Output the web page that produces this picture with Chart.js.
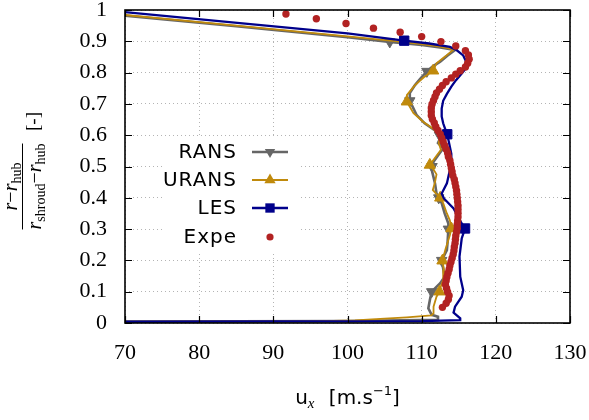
<!DOCTYPE html>
<html>
<head>
<meta charset="utf-8">
<script src="https://cdn.jsdelivr.net/npm/chart.js@4/dist/chart.umd.min.js"></script>
<style>
html,body{margin:0;padding:0;background:#fff;}
#wrap{width:589px;height:420px;}
</style>
</head>
<body>
<div id="wrap"><canvas id="c" width="589" height="420"></canvas></div>
<script>
// ---- tick values / labels ----
const xTicks = [70, 80, 90, 100, 110, 120, 130];
const yTicks = [0, 0.1, 0.2, 0.3, 0.4, 0.5, 0.6, 0.7, 0.8, 0.9, 1];
const yTickLabels = ['0', '0.1', '0.2', '0.3', '0.4', '0.5', '0.6', '0.7', '0.8', '0.9', '1'];
const seriesNames = ['RANS', 'URANS', 'LES', 'Expe'];

// ---- series: [u_x, normalized radius] ----
const rans = [
  [70, 0.982], [85, 0.948], [100, 0.913], [105.7, 0.898], [110, 0.888], [112.5, 0.880],
  [114.5, 0.872], [113.5, 0.855], [112.5, 0.835], [111.5, 0.820], [110.7, 0.804],
  [109.8, 0.780], [109.1, 0.760], [108.4, 0.735], [108.4, 0.710], [109.3, 0.665],
  [110.4, 0.638], [111.8, 0.615], [112.4, 0.600], [112.5, 0.590], [112.2, 0.575],
  [112.9, 0.558], [112.2, 0.535], [111.6, 0.515], [111.4, 0.500], [111.35, 0.490],
  [111.8, 0.446], [112.0, 0.414], [112.3, 0.400], [112.7, 0.383], [113.1, 0.350],
  [113.6, 0.318], [113.6, 0.300], [113.5, 0.260], [113.4, 0.233], [112.7, 0.200],
  [113.1, 0.148], [112.5, 0.127], [111.35, 0.100], [111.1, 0.073], [110.9, 0.047],
  [111.35, 0.026], [112.2, 0.020], [112.2, 0.010], [100, 0.006], [70, 0.005]
];
const ransMarks = [0.898, 0.804, 0.710, 0.600, 0.500, 0.400, 0.300, 0.200, 0.100];

const urans = [
  [70, 0.984], [85, 0.950], [100, 0.916], [107.1, 0.899], [110, 0.891], [112.5, 0.883],
  [114.3, 0.874], [113.2, 0.852], [112.0, 0.830], [111.55, 0.806], [110.3, 0.785],
  [109.1, 0.760], [108.0, 0.728], [108.0, 0.707], [108.9, 0.670], [110.2, 0.643],
  [111.6, 0.620], [112.5, 0.597], [112.3, 0.575], [112.6, 0.553], [111.8, 0.528],
  [111.1, 0.505], [111.6, 0.490], [112.0, 0.475], [111.8, 0.450], [111.5, 0.425],
  [112.0, 0.412], [112.5, 0.400], [112.9, 0.383], [113.4, 0.350], [113.8, 0.328],
  [114.0, 0.302], [113.8, 0.280], [113.6, 0.265], [113.2, 0.235], [112.8, 0.199],
  [113.0, 0.170], [112.9, 0.137], [112.6, 0.118], [112.4, 0.100], [112.0, 0.084],
  [111.6, 0.052], [111.6, 0.031], [111.3, 0.024], [108, 0.018], [105, 0.014],
  [101, 0.008], [95, 0.005], [70, 0.004]
];
const uransMarks = [0.806, 0.707, 0.505, 0.400, 0.302, 0.199, 0.100];

const les = [
  [70, 0.993], [85.5, 0.958], [100, 0.925], [107.65, 0.902], [111, 0.893], [113.8, 0.882],
  [114.7, 0.872], [115.6, 0.855], [116.1, 0.830], [116.0, 0.815], [115.4, 0.797],
  [114.6, 0.775], [114.0, 0.755], [113.4, 0.732], [112.9, 0.710], [112.7, 0.685],
  [112.7, 0.660], [112.9, 0.638], [113.2, 0.618], [113.45, 0.603], [113.8, 0.563],
  [114.0, 0.540], [114.0, 0.510], [113.8, 0.489], [113.4, 0.446], [112.7, 0.414],
  [113.0, 0.398], [114.3, 0.366], [115.4, 0.318], [115.85, 0.302], [115.4, 0.270],
  [115.1, 0.212], [115.2, 0.148], [115.6, 0.105], [115.4, 0.084], [114.5, 0.052],
  [114.3, 0.033], [115.2, 0.015], [115.2, 0.009], [110, 0.006], [90, 0.005], [70, 0.004]
];
const lesMarks = [0.902, 0.603, 0.302];

const expe = [
  [91.7, 0.987], [95.8, 0.972], [99.8, 0.957], [103.5, 0.942], [107.1, 0.929],
  [110.0, 0.915], [112.6, 0.899], [114.6, 0.885], [115.9, 0.870], [116.3, 0.856],
  [116.4, 0.843], [116.2, 0.830], [115.9, 0.818], [115.2, 0.806], [114.6, 0.795],
  [114.0, 0.783], [113.3, 0.771], [112.8, 0.759], [112.4, 0.747], [112.0, 0.735],
  [111.8, 0.723], [111.6, 0.711], [111.4, 0.699], [111.3, 0.687], [111.3, 0.675],
  [111.3, 0.663], [111.45, 0.651], [111.7, 0.639], [111.9, 0.627], [112.2, 0.615],
  [112.5, 0.603], [112.7, 0.591], [112.9, 0.579], [113.1, 0.567], [113.3, 0.555],
  [113.5, 0.543], [113.6, 0.531], [113.8, 0.519], [113.9, 0.507], [114.0, 0.495],
  [114.1, 0.483], [114.2, 0.471], [114.4, 0.459], [114.5, 0.447], [114.6, 0.435],
  [114.7, 0.423], [114.75, 0.411], [114.8, 0.399], [114.85, 0.387], [114.9, 0.375],
  [114.9, 0.363], [114.9, 0.351], [114.9, 0.339], [114.85, 0.327], [114.8, 0.315],
  [114.8, 0.303], [114.7, 0.291], [114.6, 0.279], [114.55, 0.267], [114.5, 0.255],
  [114.4, 0.243], [114.35, 0.231], [114.25, 0.219], [114.1, 0.207], [113.95, 0.195],
  [113.8, 0.183], [113.7, 0.171], [113.55, 0.159], [113.4, 0.147], [113.3, 0.135],
  [113.2, 0.123], [113.35, 0.111], [113.5, 0.099], [113.7, 0.087], [113.6, 0.075],
  [113.3, 0.063], [112.8, 0.050]
];

// ---- helpers ----
const toXY = arr => arr.map(p => ({x: p[0], y: p[1]}));
const markRadius = (marks, r) => ctx => (ctx.raw && marks.includes(ctx.raw.y)) ? r : 0;

const COLORS = {RANS: '#666666', URANS: '#c08a0c', LES: '#00008b', Expe: '#b22222'};

const datasets = [
  {label: seriesNames[0], data: toXY(rans), showLine: true, borderColor: COLORS.RANS, borderWidth: 2.6,
   pointStyle: 'triangle', rotation: 180, pointRadius: markRadius(ransMarks, 6),
   pointBackgroundColor: COLORS.RANS, pointBorderColor: COLORS.RANS, pointBorderWidth: 1, order: 4},
  {label: seriesNames[1], data: toXY(urans), showLine: true, borderColor: COLORS.URANS, borderWidth: 1.8,
   pointStyle: 'triangle', rotation: 0, pointRadius: markRadius(uransMarks, 6.5),
   pointBackgroundColor: COLORS.URANS, pointBorderColor: COLORS.URANS, pointBorderWidth: 1, order: 3},
  {label: seriesNames[2], data: toXY(les), showLine: true, borderColor: COLORS.LES, borderWidth: 2.3,
   pointStyle: 'rect', pointRadius: markRadius(lesMarks, 6.6),
   pointBackgroundColor: COLORS.LES, pointBorderColor: COLORS.LES, pointBorderWidth: 1, order: 2},
  {label: seriesNames[3], data: toXY(expe), showLine: false, pointStyle: 'circle', pointRadius: 3.7,
   pointBackgroundColor: COLORS.Expe, pointBorderColor: COLORS.Expe, pointBorderWidth: 0, order: 1}
];

const SERIF = '"Liberation Serif", "Times New Roman", serif';
const SANS = '"DejaVu Sans", sans-serif';

function drawMarker(ctx, style, x, y, r, color) {
  ctx.fillStyle = color;
  ctx.beginPath();
  if (style === 'rect') {
    const s = r * Math.SQRT1_2;
    ctx.rect(x - s, y - s, 2 * s, 2 * s);
  } else if (style === 'triangle' || style === 'triangleDown') {
    const sgn = style === 'triangle' ? 1 : -1;
    for (let i = 0; i < 3; i++) {
      const a = i * 2 * Math.PI / 3;
      const px = x + Math.sin(a) * r;
      const py = y - sgn * Math.cos(a) * r;
      if (i === 0) ctx.moveTo(px, py); else ctx.lineTo(px, py);
    }
    ctx.closePath();
  } else {
    ctx.arc(x, y, r, 0, Math.PI * 2);
  }
  ctx.fill();
}

const decor = {
  id: 'decor',
  afterDatasetsDraw(chart) {
    const {ctx, chartArea: a, scales: {x, y}} = chart;
    ctx.save();
    // inward ticks on all four sides
    ctx.strokeStyle = '#000';
    ctx.lineWidth = 1.2;
    ctx.beginPath();
    xTicks.forEach(v => {
      const p = Math.round(x.getPixelForValue(v)) + 0.5;
      ctx.moveTo(p, a.bottom); ctx.lineTo(p, a.bottom - 7);
      ctx.moveTo(p, a.top); ctx.lineTo(p, a.top + 7);
    });
    yTicks.forEach(v => {
      const p = Math.round(y.getPixelForValue(v)) + 0.5;
      ctx.moveTo(a.left, p); ctx.lineTo(a.left + 7, p);
      ctx.moveTo(a.right, p); ctx.lineTo(a.right - 7, p);
    });
    ctx.stroke();
    // frame
    ctx.lineWidth = 1.6;
    ctx.strokeRect(a.left, a.top, a.right - a.left, a.bottom - a.top);

    // legend (opaque key box)
    ctx.fillStyle = '#fff';
    ctx.fillRect(164, 138, 137, 113);
    const rows = [152, 180, 208, 237];
    const styles = [
      {w: 2.6, m: 'triangleDown', r: 6},
      {w: 1.8, m: 'triangle', r: 6.5},
      {w: 2.3, m: 'rect', r: 6.6},
      {w: 0, m: 'circle', r: 3.6}
    ];
    ctx.font = '20px ' + SANS;
    try { ctx.letterSpacing = '1px'; } catch (e) {}
    ctx.textAlign = 'right';
    ctx.textBaseline = 'middle';
    datasets.forEach((ds, i) => {
      const yy = rows[i];
      const col = COLORS[ds.label];
      ctx.fillStyle = '#000';
      ctx.fillText(ds.label, 237, yy + 1);
      if (styles[i].w > 0) {
        ctx.strokeStyle = col;
        ctx.lineWidth = styles[i].w;
        ctx.beginPath();
        ctx.moveTo(252, yy); ctx.lineTo(288, yy);
        ctx.stroke();
      }
      drawMarker(ctx, styles[i].m, 270, yy, styles[i].r, col);
    });
    try { ctx.letterSpacing = '0px'; } catch (e) {}

    // x-axis title: u_x [m.s^-1]
    ctx.textAlign = 'left';
    ctx.textBaseline = 'alphabetic';
    ctx.fillStyle = '#000';
    const base = 404;
    const parts = [
      {t: 'u', f: '20px ' + SANS, dy: 0},
      {t: 'x', f: 'italic 15px ' + SERIF, dy: 4},
      {t: ' ', f: '20px ' + SANS, dy: 0, extra: 8},
      {t: '[m.s', f: '20px ' + SANS, dy: 0},
      {t: '\u22121', f: '13px ' + SANS, dy: -9},
      {t: ']', f: '20px ' + SANS, dy: 0}
    ];
    let total = 0;
    parts.forEach(p => { ctx.font = p.f; p.w = ctx.measureText(p.t).width + (p.extra || 0); total += p.w; });
    let cx = (a.left + a.right) / 2 - total / 2;
    parts.forEach(p => { ctx.font = p.f; ctx.fillText(p.t, cx, base + p.dy); cx += p.w; });

    // y-axis title: (r - r_hub)/(r_shroud - r_hub) [-]
    ctx.translate(22, 171);
    ctx.rotate(-Math.PI / 2);
    const numer = [
      {t: 'r', f: 'italic 20px ' + SERIF, dy: 0},
      {t: '\u2212', f: '20px ' + SERIF, dy: 0},
      {t: 'r', f: 'italic 20px ' + SERIF, dy: 0},
      {t: 'hub', f: '14px ' + SERIF, dy: 4}
    ];
    const denom = [
      {t: 'r', f: 'italic 20px ' + SERIF, dy: 0},
      {t: 'shroud', f: '14px ' + SERIF, dy: 4},
      {t: '\u2212', f: '20px ' + SERIF, dy: 0},
      {t: 'r', f: 'italic 20px ' + SERIF, dy: 0},
      {t: 'hub', f: '14px ' + SERIF, dy: 4}
    ];
    const drawRow = (row, centerU, baseV) => {
      let w = 0;
      row.forEach(p => { ctx.font = p.f; p.w = ctx.measureText(p.t).width; w += p.w; });
      let u = centerU - w / 2;
      row.forEach(p => { ctx.font = p.f; ctx.fillText(p.t, u, baseV + p.dy); u += p.w; });
      return w;
    };
    const fc = -15.5;
    const dw = drawRow(denom, fc, 19);
    drawRow(numer, fc, -5);
    ctx.lineWidth = 1;
    ctx.strokeStyle = '#000';
    ctx.beginPath();
    ctx.moveTo(fc - dw / 2, 0.5); ctx.lineTo(fc + dw / 2, 0.5);
    ctx.stroke();
    ctx.font = '19px ' + SERIF;
    ctx.textAlign = 'left';
    ctx.fillText('[-]', 40, 17);
    ctx.restore();
  }
};

new Chart(document.getElementById('c'), {
  type: 'scatter',
  data: {datasets},
  options: {
    responsive: false,
    devicePixelRatio: 1,
    animation: false,
    events: [],
    layout: {padding: {left: 0, right: 19, top: 10, bottom: 0}},
    plugins: {legend: {display: false}, tooltip: {enabled: false}},
    elements: {line: {tension: 0}},
    scales: {
      x: {
        type: 'linear', min: 70, max: 130,
        afterBuildTicks: s => { s.ticks = xTicks.map(v => ({value: v})); },
        afterFit: s => { s.height = 97; s.paddingLeft = 0; s.paddingRight = 0; },
        ticks: {font: {family: SERIF, size: 22}, color: '#000', padding: 17, maxRotation: 0,
                autoSkip: false, callback: v => String(v)},
        grid: {color: '#b4b4b4', lineWidth: 1, drawTicks: false},
        border: {display: false, dash: [1, 3]}
      },
      y: {
        type: 'linear', min: 0, max: 1,
        afterBuildTicks: s => { s.ticks = yTicks.map(v => ({value: v})); },
        afterFit: s => { s.width = 125; s.paddingTop = 0; s.paddingBottom = 0; },
        ticks: {font: {family: SERIF, size: 22}, color: '#000', padding: 18, autoSkip: false,
                callback: (v, i) => yTickLabels[i]},
        grid: {color: '#b4b4b4', lineWidth: 1, drawTicks: false},
        border: {display: false, dash: [1, 3]}
      }
    }
  },
  plugins: [decor]
});
</script>
</body>
</html>
